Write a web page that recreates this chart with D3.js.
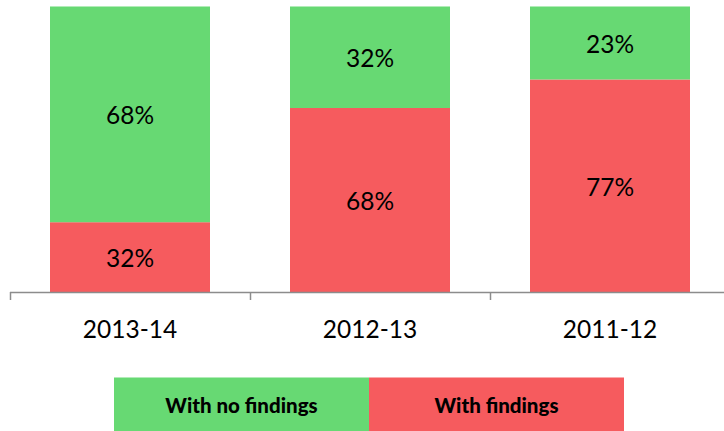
<!DOCTYPE html>
<html><head><meta charset="utf-8">
<script src="https://cdn.jsdelivr.net/npm/d3@7"></script>
<style>body{margin:0;background:#fff}svg{display:block}</style>
</head><body>
<svg id="c" width="724" height="431"></svg>
<script>
const categories = ["2013-14", "2012-13", "2011-12"];
const withFindings = [32, 68, 77];
const withNoFindings = [68, 32, 23];
const seriesNames = ["With no findings", "With findings"];
const colors = {"With findings": "#f65b5e", "With no findings": "#67d973"};

const svg = d3.select("#c");
const font = "Lato, 'Open Sans', sans-serif";
const x = d3.scaleBand().domain(categories).range([10, 730]).paddingInner(1/3).paddingOuter(1/6);
const y = d3.scaleLinear().domain([10, 100]).range([292, 6.5]);

const data = categories.map((c, i) => ({cat: c, f: withFindings[i], n: withNoFindings[i]}));

const g = svg.append("g");
data.forEach(d => {
  const yTop = y(d.f);
  g.append("rect").attr("x", x(d.cat)).attr("width", x.bandwidth())
    .attr("y", yTop).attr("height", y(10) - yTop).attr("fill", colors["With findings"]);
  g.append("rect").attr("x", x(d.cat)).attr("width", x.bandwidth())
    .attr("y", y(100)).attr("height", yTop - y(100)).attr("fill", colors["With no findings"]);
  g.append("text").attr("x", x(d.cat) + x.bandwidth()/2).attr("y", (yTop + y(10))/2 + 1)
    .attr("dy", "0.36em").attr("text-anchor", "middle").attr("font-family", font)
    .attr("font-size", 24.5).attr("fill", "#000").text(d.f + "%");
  g.append("text").attr("x", x(d.cat) + x.bandwidth()/2).attr("y", (yTop + y(100))/2 + 1)
    .attr("dy", "0.36em").attr("text-anchor", "middle").attr("font-family", font)
    .attr("font-size", 24.5).attr("fill", "#000").text(d.n + "%");
});

// axis
const ax = svg.append("g");
ax.append("line").attr("x1", 10).attr("x2", 724).attr("y1", 292.5).attr("y2", 292.5)
  .attr("stroke", "#8c8c8c").attr("stroke-width", 1.5);
const tickXs = categories.map(c => x(c) - x.step()*x.paddingOuter());
tickXs.push(730);
tickXs.forEach(t => ax.append("line").attr("x1", t + 0.5).attr("x2", t + 0.5)
  .attr("y1", 292).attr("y2", 300).attr("stroke", "#8c8c8c").attr("stroke-width", 1.5));
categories.forEach(c => ax.append("text").attr("x", x(c) + x.bandwidth()/2).attr("y", 329)
  .attr("dy", "0.36em").attr("text-anchor", "middle").attr("font-family", font)
  .attr("font-size", 24.5).attr("fill", "#000").text(c));

// legend
const lx = d3.scaleBand().domain(seriesNames).range([114, 624]);
const lg = svg.append("g");
seriesNames.forEach(s => {
  lg.append("rect").attr("x", lx(s)).attr("y", 377.5).attr("width", lx.bandwidth()).attr("height", 54)
    .attr("fill", colors[s]);
  lg.append("text").attr("x", lx(s) + lx.bandwidth()/2).attr("y", 406).attr("dy", "0.36em")
    .attr("text-anchor", "middle").attr("font-family", font).attr("font-weight", 900)
    .attr("font-size", 20.5).attr("fill", "#000").text(s);
});
</script>
</body></html>
